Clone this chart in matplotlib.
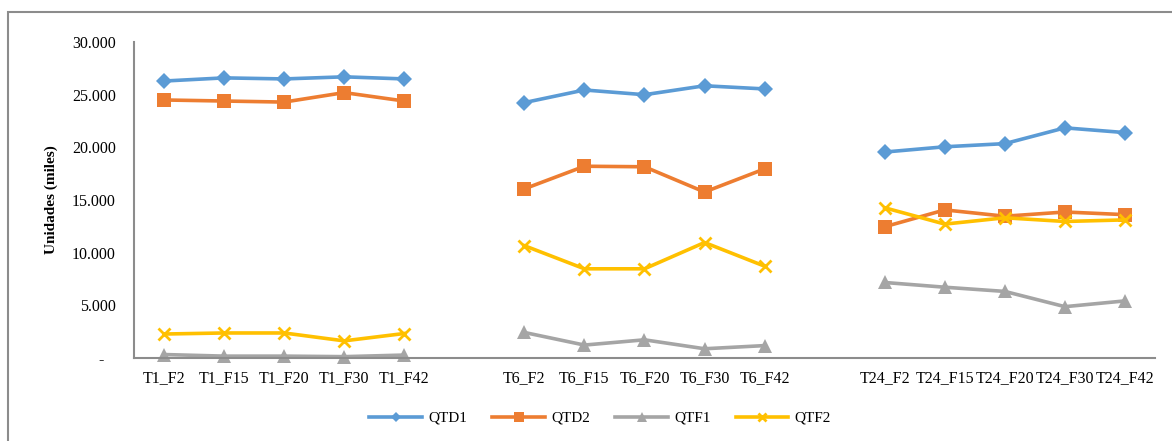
import numpy as np
import matplotlib
matplotlib.use("Agg")
import matplotlib.pyplot as plt
from matplotlib.patches import Rectangle
from matplotlib.ticker import FuncFormatter

plt.rcParams['font.family'] = ['Liberation Serif', 'DejaVu Serif']

# Categories: three groups of five, separated by empty slots
categories = ["T1_F2", "T1_F15", "T1_F20", "T1_F30", "T1_F42", "",
              "T6_F2", "T6_F15", "T6_F20", "T6_F30", "T6_F42", "",
              "T24_F2", "T24_F15", "T24_F20", "T24_F30", "T24_F42"]

nan = np.nan
qtd1 = [26300, 26600, 26500, 26700, 26500, nan,
        24250, 25450, 25000, 25850, 25550, nan,
        19550, 20050, 20350, 21850, 21400]
qtd2 = [24500, 24400, 24300, 25200, 24400, nan,
        16050, 18200, 18150, 15750, 17950, nan,
        12450, 14050, 13450, 13850, 13600]
qtf1 = [300, 150, 150, 100, 250, nan,
        2400, 1200, 1700, 850, 1150, nan,
        7150, 6700, 6300, 4850, 5400]
qtf2 = [2250, 2350, 2350, 1600, 2300, nan,
        10650, 8450, 8450, 10950, 8700, nan,
        14250, 12700, 13300, 12950, 13100]

series = [
    ("QTD1", qtd1, "#5B9BD5", "D", 8.0),
    ("QTD2", qtd2, "#ED7D31", "s", 9.5),
    ("QTF1", qtf1, "#A5A5A5", "^", 9.5),
    ("QTF2", qtf2, "#FFC000", "x", 9.0),
]

fig = plt.figure(figsize=(11.72, 4.41), dpi=100)
ax = fig.add_axes([0.1143, 0.1889, 0.8712, 0.7156])

x = np.arange(len(categories))
for name, vals, color, marker, ms in series:
    kw = dict(markeredgewidth=2.0) if marker == "x" else dict(markeredgewidth=0)
    ax.plot(x, vals, color=color, linewidth=2.6, marker=marker,
            markersize=ms, markerfacecolor=color, markeredgecolor=color,
            label=name, clip_on=False, **kw)

ax.set_xlim(-0.5, len(categories) - 0.5)
ax.set_ylim(0, 30000)
ax.set_yticks(np.arange(0, 30001, 5000))
ax.yaxis.set_major_formatter(FuncFormatter(
    lambda v, p: "-   " if v == 0 else f"{int(v):,}".replace(",", ".")))
ax.set_xticks(x)
ax.set_xticklabels(categories)

ax.tick_params(axis='y', length=0, pad=13, labelsize=11.5)
ax.tick_params(axis='x', length=0, pad=9, labelsize=11.5)

for s in ("top", "right"):
    ax.spines[s].set_visible(False)
for s in ("left", "bottom"):
    ax.spines[s].set_color("#8C8C8C")
    ax.spines[s].set_linewidth(1.5)

ax.set_ylabel("Unidades (miles)", fontsize=11, fontweight="bold", labelpad=10)

leg = fig.legend(loc="center", bbox_to_anchor=(0.512, 0.052), ncol=4,
                 frameon=False, fontsize=11, handlelength=3.45,
                 handletextpad=0.4, columnspacing=1.65, markerscale=0.7)

# chart area frame
fig.patches.append(Rectangle((7.5 / 1172, -0.1), 1.2, 1.1 - 11.5 / 441,
                             transform=fig.transFigure, fill=False,
                             edgecolor="#8C8C8C", linewidth=1.5))

fig.savefig("out.png", dpi=100)
